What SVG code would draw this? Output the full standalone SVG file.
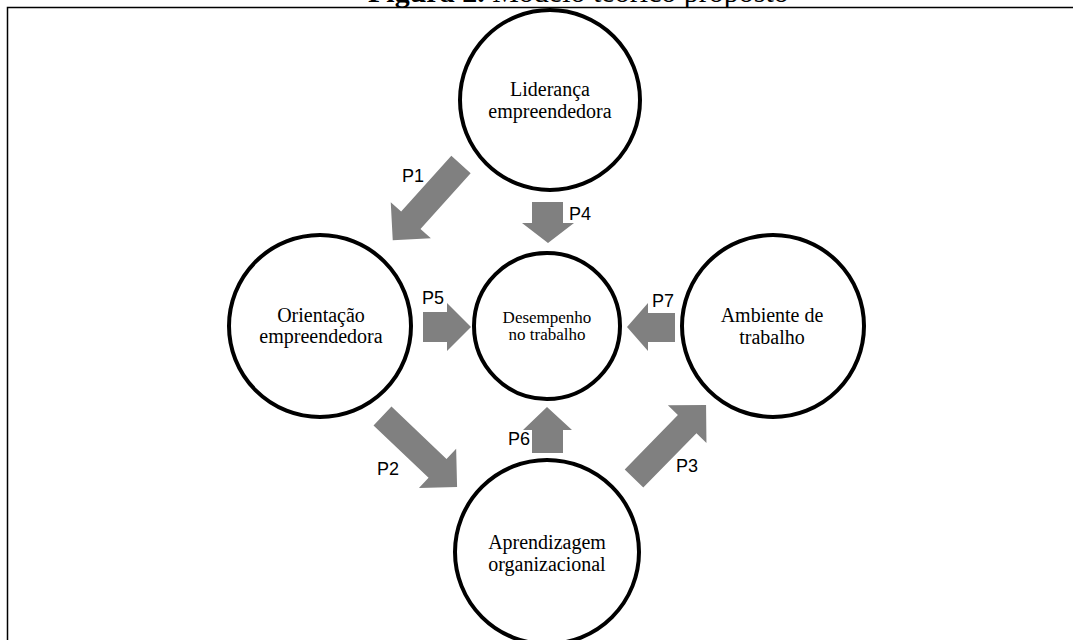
<svg xmlns="http://www.w3.org/2000/svg" width="1073" height="640" viewBox="0 0 1073 640">
<style>
.node{fill:#fff;stroke:#000;stroke-width:4}
.lbl{font-family:"Liberation Serif","Times New Roman",serif;font-size:20px;fill:#000;text-anchor:middle}
.lbls{font-family:"Liberation Serif","Times New Roman",serif;font-size:17px;fill:#000;text-anchor:middle}
.arr{fill:#808080}
.p{font-family:"Liberation Sans",Arial,sans-serif;font-size:18px;fill:#000}
</style>
<rect width="1073" height="640" fill="#fff"/>
<text x="368" y="1.5" font-family="'Liberation Serif','Times New Roman',serif" font-size="30"><tspan font-weight="bold">Figura 2.</tspan> Modelo teórico proposto</text>
<path d="M7.5,640 V7.5 H1073" fill="none" stroke="#000" stroke-width="1.5"/>
<g id="n-lideranca"><circle class="node" cx="550" cy="100" r="90"/><text class="lbl" x="550" y="96">Liderança</text><text class="lbl" x="550" y="118">empreendedora</text></g>
<g id="n-orientacao"><circle class="node" cx="320" cy="326" r="91"/><text class="lbl" x="321" y="322">Orientação</text><text class="lbl" x="321" y="343">empreendedora</text></g>
<g id="n-desempenho"><circle class="node" cx="547" cy="326" r="73"/><text class="lbls" x="547" y="323">Desempenho</text><text class="lbls" x="547" y="340">no trabalho</text></g>
<g id="n-ambiente"><circle class="node" cx="773" cy="326" r="91"/><text class="lbl" x="772" y="322">Ambiente de</text><text class="lbl" x="772" y="344">trabalho</text></g>
<g id="n-aprendizagem"><circle class="node" cx="547" cy="552" r="92"/><text class="lbl" x="547" y="549">Aprendizagem</text><text class="lbl" x="547" y="571">organizacional</text></g>
<g id="connectors">
<path class="arr" transform="translate(461,164.5) rotate(132)" d="M0,-13 H75 V-27 L102,0 L75,27 V13 H0 Z"/>
<path class="arr" transform="translate(382.5,416) rotate(43.6)" d="M0,-13 H76 V-27 L103,0 L76,27 V13 H0 Z"/>
<path class="arr" transform="translate(634,478.5) rotate(-45.6)" d="M0,-13 H76 V-27 L103,0 L76,27 V13 H0 Z"/>
<polygon class="arr" points="532,202 563,202 563,223 574,223 548,243 522,223 532,223"/>
<polygon class="arr" points="423,312 447,312 447,303 471,327 447,351 447,342 423,342"/>
<polygon class="arr" points="675,313 648,313 648,303 627,327 648,351 648,342 675,342"/>
<polygon class="arr" points="532,453 532,430 523,430 547,407 572,430 563,430 563,453"/>
<text class="p" x="402" y="182">P1</text>
<text class="p" x="377" y="475">P2</text>
<text class="p" x="676" y="472">P3</text>
<text class="p" x="569" y="220">P4</text>
<text class="p" x="422" y="304">P5</text>
<text class="p" x="508" y="445">P6</text>
<text class="p" x="652" y="307">P7</text>
</g>
</svg>
